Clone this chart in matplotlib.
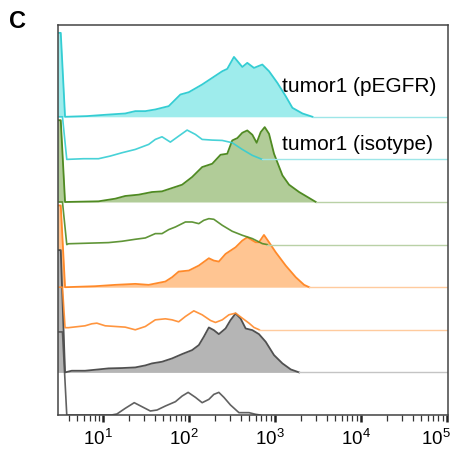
import numpy as np
import matplotlib
matplotlib.use("Agg")
import matplotlib.pyplot as plt
from matplotlib.transforms import ScaledTranslation

plt.rcParams['font.family'] = ['Liberation Sans', 'DejaVu Sans']
plt.rcParams['mathtext.fontset'] = 'custom'
plt.rcParams['mathtext.rm'] = 'Liberation Sans'
plt.rcParams['mathtext.it'] = 'Liberation Sans:italic'
plt.rcParams['mathtext.bf'] = 'Liberation Sans:bold'

# ---- data: x as log10(fluorescence), y as normalized count (row units) ----
cyan_fill_x = [0.47, 0.51, 0.56, 0.813, 1.027, 1.260, 1.377, 1.494, 1.610, 1.766, 1.902, 2.0, 2.155, 2.272,
               2.389, 2.447, 2.525, 2.622, 2.680, 2.758, 2.855, 2.933, 3.030, 3.127, 3.205, 3.322, 3.439]
cyan_fill_y = [1.97, 1.97, 0.0, 0.016, 0.047, 0.078, 0.133, 0.133, 0.172, 0.25, 0.523, 0.578, 0.758, 0.914,
               1.07, 1.125, 1.406, 1.17, 1.266, 1.148, 1.227, 1.07, 0.797, 0.484, 0.211, 0.078, 0.0]

cyan_iso_x = [0.49, 0.53, 0.58, 0.774, 0.949, 1.085, 1.222, 1.377, 1.533, 1.610, 1.688, 1.785, 1.882, 1.980,
              2.077, 2.155, 2.272, 2.389, 2.505, 2.622, 2.739, 2.855]
cyan_iso_y = [1.0, 1.0, 0.0, 0.016, 0.016, 0.078, 0.156, 0.234, 0.352, 0.469, 0.531, 0.406, 0.547, 0.688,
              0.586, 0.469, 0.453, 0.445, 0.391, 0.234, 0.094, 0.0]

green_fill_x = [0.47, 0.51, 0.56, 0.949, 1.144, 1.260, 1.416, 1.571, 1.688, 1.805, 1.922, 2.038, 2.155, 2.272,
                2.369, 2.447, 2.505, 2.564, 2.622, 2.680, 2.739, 2.789, 2.836, 2.883, 2.933, 2.991, 3.089,
                3.166, 3.283, 3.400, 3.478]
green_fill_y = [1.92, 1.92, 0.0, 0.016, 0.078, 0.141, 0.172, 0.234, 0.25, 0.328, 0.406, 0.586, 0.82, 0.898,
                1.109, 1.133, 1.445, 1.5, 1.625, 1.68, 1.578, 1.39, 1.64, 1.758, 1.60, 1.133, 0.625,
                0.406, 0.234, 0.094, 0.0]

green_iso_x = [0.49, 0.53, 0.58, 0.60, 1.066, 1.222, 1.377, 1.494, 1.610, 1.688, 1.766, 1.844, 1.960, 2.038,
               2.116, 2.174, 2.233, 2.291, 2.389, 2.505, 2.622, 2.739, 2.855, 2.914]
green_iso_y = [1.0, 1.0, 0.0, 0.02, 0.047, 0.078, 0.125, 0.156, 0.258, 0.258, 0.352, 0.414, 0.531, 0.531,
               0.492, 0.570, 0.609, 0.594, 0.453, 0.3125, 0.219, 0.141, 0.023, 0.0]

orange_fill_x = [0.47, 0.51, 0.56, 0.910, 1.144, 1.377, 1.533, 1.649, 1.727, 1.805, 1.882, 2.0, 2.116, 2.233,
                 2.291, 2.349, 2.427, 2.544, 2.622, 2.680, 2.777, 2.816, 2.874, 2.933, 3.011, 3.127, 3.244,
                 3.341, 3.400]
orange_fill_y = [1.92, 1.92, 0.0, 0.023, 0.055, 0.078, 0.055, 0.102, 0.133, 0.234, 0.367, 0.391, 0.508, 0.680,
                 0.625, 0.602, 0.781, 0.9375, 1.094, 1.172, 1.055, 1.055, 1.227, 1.055, 0.820, 0.508, 0.234,
                 0.055, 0.0]

orange_iso_x = [0.49, 0.53, 0.56, 0.60, 0.793, 0.871, 0.930, 1.027, 1.260, 1.377, 1.494, 1.610, 1.727, 1.805,
                1.882, 1.960, 2.058, 2.155, 2.252, 2.310, 2.389, 2.466, 2.544, 2.622, 2.700, 2.758, 2.82]
orange_iso_y = [1.0, 1.0, 0.05, 0.05, 0.094, 0.141, 0.156, 0.094, 0.0625, 0.0, 0.078, 0.234, 0.258, 0.234,
                0.1875, 0.3125, 0.445, 0.352, 0.219, 0.172, 0.234, 0.352, 0.391, 0.273, 0.156, 0.055, 0.0]

gray_fill_x = [0.47, 0.51, 0.56, 0.638, 0.793, 0.949, 1.066, 1.222, 1.377, 1.494, 1.571, 1.688, 1.805, 1.922,
               2.038, 2.116, 2.174, 2.233, 2.291, 2.349, 2.427, 2.485, 2.544, 2.602, 2.661, 2.739, 2.816,
               2.894, 2.991, 3.089, 3.186, 3.283]
gray_fill_y = [2.87, 2.87, 0.0, 0.039, 0.039, 0.070, 0.094, 0.102, 0.117, 0.164, 0.211, 0.25, 0.328, 0.430,
               0.523, 0.641, 0.836, 1.055, 0.992, 0.898, 1.031, 1.227, 1.383, 1.266, 1.031, 0.992, 0.898,
               0.719, 0.406, 0.211, 0.070, 0.0]

gray_iso_x = [0.49, 0.53, 0.58, 1.10, 1.163, 1.260, 1.365, 1.455, 1.552, 1.630, 1.727, 1.844, 1.922, 1.992,
              2.077, 2.155, 2.233, 2.291, 2.349, 2.408, 2.485, 2.583, 2.700, 2.777, 2.83]
gray_iso_y = [1.95, 1.95, 0.0, 0.0, 0.023, 0.156, 0.289, 0.195, 0.094, 0.117, 0.211, 0.3125, 0.445, 0.531,
              0.414, 0.289, 0.367, 0.484, 0.531, 0.414, 0.234, 0.055, 0.055, 0.016, 0.0]

labels = ["tumor1 (pEGFR)", "tumor1 (isotype)"]
tick_vals = [1e1, 1e2, 1e3, 1e4, 1e5]
tick_labels = [r"$\mathregular{10^{1}}$", r"$\mathregular{10^{2}}$", r"$\mathregular{10^{3}}$",
               r"$\mathregular{10^{4}}$", r"$\mathregular{10^{5}}$"]

# ---- styling ----
series = [
    (cyan_fill_x, cyan_fill_y, cyan_iso_x, cyan_iso_y, "#34CDD3", "#9EECEC", "#9EE6E8"),
    (green_fill_x, green_fill_y, green_iso_x, green_iso_y, "#4F8A22", "#B1CC98", "#B9D1A6"),
    (orange_fill_x, orange_fill_y, orange_iso_x, orange_iso_y, "#FF8A2A", "#FFC592", "#FFCB9E"),
    (gray_fill_x, gray_fill_y, gray_iso_x, gray_iso_y, "#505050", "#B5B5B5", "#C4C4C4"),
]

fig = plt.figure(figsize=(4.51, 4.55), dpi=100)
ax = fig.add_axes([58 / 451, 1 - 415 / 455, 390 / 451, 390 / 455])
ax.set_xscale("log")
xmin, xmax = 10 ** 0.478, 10 ** 5.015
ax.set_xlim(xmin, xmax)
row = 42.6
ax.set_ylim(0, 390 / row)

nrows = len(series) * 2
for i, (fx, fy, ix, iy, edge, fill, base) in enumerate(series):
    off_fill = nrows - 1 - 2 * i
    off_iso = nrows - 2 - 2 * i
    fxv = 10 ** np.array(fx)
    fyv = np.array(fy) + off_fill
    ax.fill_between(fxv, off_fill, fyv, color=fill, lw=0, zorder=2 + i * 0.1)
    ax.plot(fxv, fyv, color=edge, lw=1.3, zorder=2.05 + i * 0.1)
    ax.plot([fxv[-1], xmax], [off_fill, off_fill], color=base, lw=1.0, zorder=2.05 + i * 0.1)
    ixv = 10 ** np.array(ix)
    iyv = np.array(iy) + off_iso
    ax.plot(ixv, iyv, color=edge, lw=1.2, alpha=0.9, zorder=3 + i * 0.1)
    ax.plot([ixv[-1], xmax], [off_iso, off_iso], color=base, lw=1.0, zorder=3 + i * 0.1)

# labels
ax.text(10 ** 3.08, 7.59, labels[0], fontsize=15, ha="left", va="baseline", color="black")
ax.text(10 ** 3.08, 6.22, labels[1], fontsize=15, ha="left", va="baseline", color="black")

ax.set_yticks([])
ax.set_xticks(tick_vals)
ax.set_xticklabels(tick_labels, fontsize=13.5)
ax.xaxis.set_minor_locator(matplotlib.ticker.LogLocator(base=10, subs=np.arange(2, 10), numticks=20))
ax.xaxis.set_minor_formatter(matplotlib.ticker.NullFormatter())
ax.tick_params(axis="x", which="major", direction="out", length=5, width=1.8, color="#222222", pad=5)
ax.tick_params(axis="x", which="minor", direction="out", length=4, width=0.9, color="#333333")
shifts = [-5, -5, -5, -5, -11]
for lab, dx in zip(ax.get_xticklabels(), shifts):
    lab.set_transform(lab.get_transform() + ScaledTranslation(dx / 100, 0, fig.dpi_scale_trans))
for s in ax.spines.values():
    s.set_color("#444444")
    s.set_linewidth(1.1)
    s.set_zorder(5)

fig.text(18 / 451, 1 - 22 / 455, "C", fontsize=17, fontweight="bold", ha="center", va="center")

fig.savefig("out.png", dpi=100)
